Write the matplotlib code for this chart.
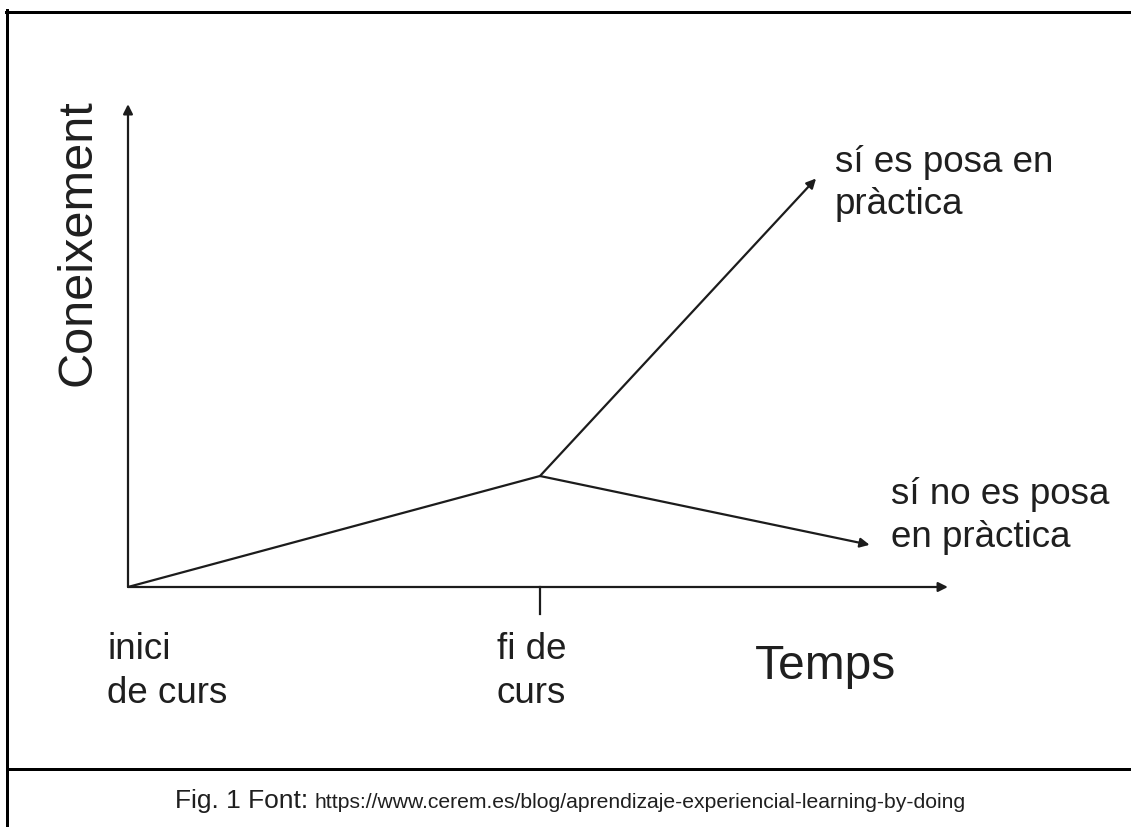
import matplotlib
matplotlib.use("Agg")
import matplotlib.pyplot as plt
from matplotlib.lines import Line2D

plt.rcParams['font.family'] = ['Liberation Sans', 'DejaVu Sans']

# ---- data (time in "courses", knowledge in arbitrary units) ----
course_time = [0.0, 1.0]          # inici de curs -> fi de curs
course_knowledge = [0.0, 1.0]
practice_end = (1.67, 3.68)       # si es posa en practica
no_practice_end = (1.80, 0.38)    # si no es posa en practica
x_axis_end = 1.99
y_axis_end = 4.35

W, H = 1131, 828
DPI = 100
fig = plt.figure(figsize=(W / DPI, H / DPI), dpi=DPI)
fig.patch.set_facecolor('white')


def fx(px):
    return px / W


def fy(py):
    return 1 - py / H


# chart axes: origin at pixel (128, 588)
x_px_per_unit = 412
y_px_per_unit = 111
ax = fig.add_axes([fx(128), fy(588), 2 * x_px_per_unit / W, 4.5 * y_px_per_unit / H])
ax.set_xlim(0, 2)
ax.set_ylim(0, 4.5)
ax.axis('off')

LC = '#1c1c1c'
LW = 1.6
arrow = dict(arrowstyle='-|>', color=LC, lw=LW, shrinkA=0, shrinkB=0, mutation_scale=14)

# axes arrows
ax.annotate('', xy=(0, y_axis_end), xytext=(0, 0), arrowprops=arrow, annotation_clip=False)
ax.annotate('', xy=(x_axis_end, 0), xytext=(0, 0), arrowprops=arrow, annotation_clip=False)
# tick at end of course
ax.plot([course_time[1], course_time[1]], [0, -0.24], color=LC, lw=LW, clip_on=False)

# learning during the course
ax.plot(course_time, course_knowledge, color=LC, lw=LW, solid_capstyle='round')
# branches after the course
ax.annotate('', xy=practice_end, xytext=(course_time[1], course_knowledge[1]),
            arrowprops=arrow, annotation_clip=False)
ax.annotate('', xy=no_practice_end, xytext=(course_time[1], course_knowledge[1]),
            arrowprops=arrow, annotation_clip=False)

TC = '#1f1f1f'
fig.text(fx(78), fy(243), 'Coneixement', rotation=90, fontsize=35, color=TC,
         ha='center', va='center')
fig.text(fx(755), fy(679), 'Temps', fontsize=34.5, color=TC, ha='left', va='baseline')
# multi-line: baseline refers to the last line
fig.text(fx(107), fy(703), 'inici\nde curs', fontsize=26.5, color=TC, ha='left',
         va='baseline', linespacing=1.35)
fig.text(fx(497), fy(703), 'fi de\ncurs', fontsize=26.5, color=TC, ha='left',
         va='baseline', linespacing=1.35)
fig.text(fx(835), fy(214), 'sí es posa en\npràctica', fontsize=26.5, color=TC,
         ha='left', va='baseline', linespacing=1.25)
fig.text(fx(891), fy(547), 'sí no es posa\nen pràctica', fontsize=26.5, color=TC,
         ha='left', va='baseline', linespacing=1.3)

# caption
fig.text(fx(175), fy(808), 'Fig. 1 Font:', fontsize=19, color=TC, ha='left', va='baseline')
fig.text(fx(315), fy(808), 'https://www.cerem.es/blog/aprendizaje-experiencial-learning-by-doing',
         fontsize=15.2, color=TC, ha='left', va='baseline')

# table-like frame
blw = 3 * 72 / DPI
fig.add_artist(Line2D([fx(5.5), 1], [fy(12.5), fy(12.5)], color='black', lw=blw))
fig.add_artist(Line2D([fx(7), fx(7)], [fy(11), 0], color='black', lw=blw))
fig.add_artist(Line2D([fx(7), 1], [fy(769.5), fy(769.5)], color='black', lw=blw))

fig.savefig('out.png', dpi=DPI)
